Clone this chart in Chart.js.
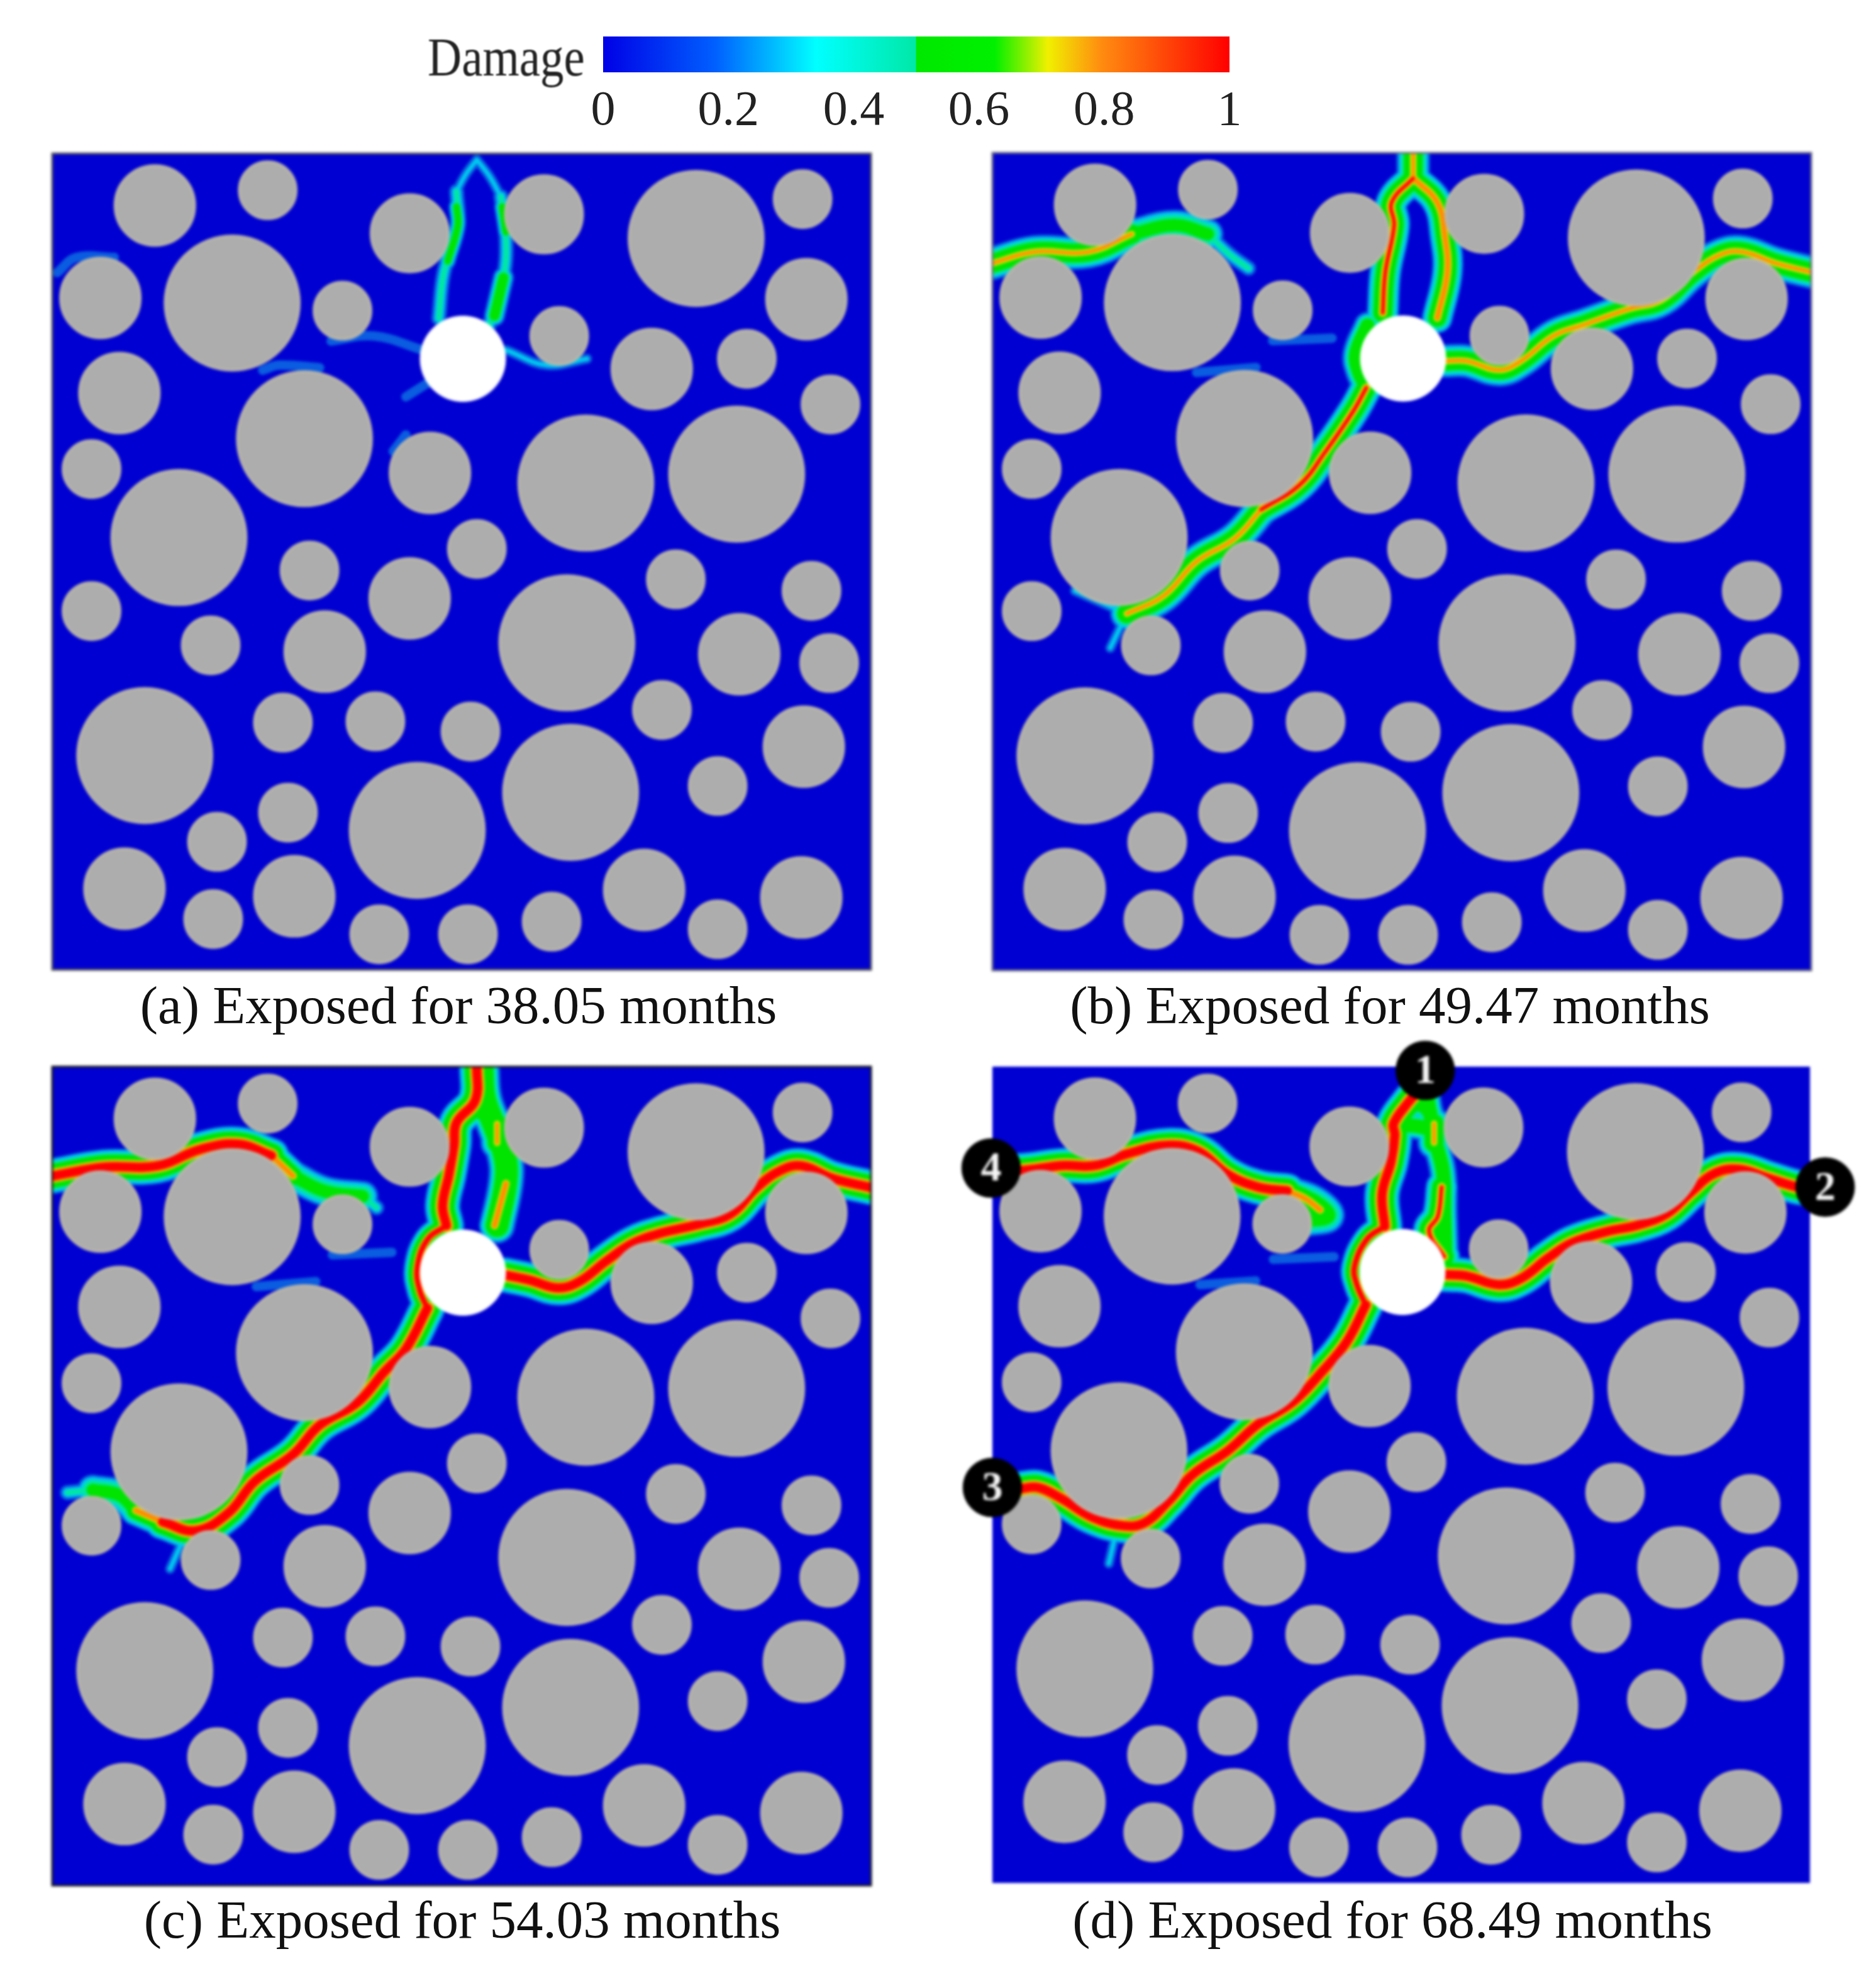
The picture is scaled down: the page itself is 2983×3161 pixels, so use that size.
<!DOCTYPE html>
<html>
<head>
<meta charset="utf-8">
<title>Damage</title>
<script src="https://cdn.jsdelivr.net/npm/chart.js@4"></script>
<style>
  html, body { margin: 0; padding: 0; background: #fff; }
  body { position: relative; width: 2983px; height: 3161px; overflow: hidden; }
  canvas { position: absolute; }
  canvas.field { filter: blur(2px); }
  .caption {
    position: absolute; white-space: nowrap; color: #111;
    font-family: "Liberation Serif", serif; font-size: 85px; line-height: 90px;
    transform: translateX(-50%); filter: blur(0.6px);
  }
  #damageLabel {
    position: absolute; left: 680px; top: 46px; color: #222;
    font-family: "Liberation Serif", serif; font-size: 75px; line-height: 90px; filter: blur(0.8px);
    transform: scaleY(1.15);
  }
</style>
</head>
<body>
<canvas id="colorbar" width="1130" height="210" style="left:900px;top:30px"></canvas>
<div id="damageLabel">Damage</div>
<canvas id="panelA" class="field"></canvas>
<canvas id="panelB" class="field"></canvas>
<canvas id="panelC" class="field"></canvas>
<canvas id="panelD" class="field"></canvas>
<script>
  // aggregates, units are specimen units with y going down
  var aggX = [81, 170, 282, 388, 508, 592, 38, 142, 229, 400, 595, 473, 548, 53, 199, 614, 31, 298, 421, 540, 100, 335, 203, 282, 492, 599, 31, 125, 215, 406, 542, 613, 73, 182, 255, 330, 481, 593, 409, 525, 288, 186, 130, 57, 191, 127, 258, 328, 394, 467, 525, 591];
  var aggY = [41, 29, 63, 48, 67, 36, 114, 118, 124, 144, 115, 170, 162, 189, 225, 198, 249, 252, 260, 253, 303, 312, 329, 351, 336, 345, 361, 388, 393, 386, 395, 402, 475, 449, 448, 456, 439, 468, 504, 499, 534, 520, 543, 580, 586, 604, 616, 616, 606, 581, 612, 587];
  var aggR = [32.5, 23.5, 31.5, 31.5, 54, 23.5, 32.5, 54, 23.5, 23.5, 32.5, 32.5, 23.5, 32.5, 54, 23.5, 23.5, 32.5, 54, 54, 54, 23.5, 23.5, 32.5, 23.5, 23.5, 23.5, 23.5, 32.5, 54, 32.5, 23.5, 54, 23.5, 23.5, 23.5, 23.5, 32.5, 54, 23.5, 54, 23.5, 23.5, 32.5, 32.5, 23.5, 23.5, 23.5, 23.5, 32.5, 23.5, 32.5];
  var holeX = [324];
  var holeY = [162];
  var holeR = [34];

  // crack paths, [x, y]
  var aLegTopL = [[335, 5], [326, 17], [319, 30]];
  var aLegTopR = [[335, 5], [345, 18], [354, 34]];
  var aLegL = [[319, 30], [320, 57], [309, 94], [305, 130]];
  var aLegR = [[354, 34], [358, 66], [356, 98], [345, 135]];
  var aGreenL = [[319, 42], [320, 57], [312, 85]];
  var aGreenR = [[356, 98], [349, 128]];
  var aGreenR2 = [[355, 42], [358, 62]];
  var aWestArm = [[220, 148], [254, 144], [292, 155]];
  var aEastArm = [[358, 155], [390, 167], [422, 162]];
  var aSouthArm = [[279, 192], [298, 180]];
  var aEdge = [[4, 94], [19, 82], [49, 82]];
  var aMid = [[166, 171], [179, 167], [211, 169]];
  var aNick = [[269, 235], [279, 222]];

  var bWest = [[0, 87], [33, 78], [76, 78], [110, 64]];
  var bWest2 = [[110, 64], [144, 57], [170, 64]];
  var bWestTail = [[170, 64], [187, 80], [202, 91]];
  var bTop = [[332, 0], [332, 20]];
  var bCrown = [[316, 36], [332, 24], [349, 36]];
  var bLegL = [[332, 20], [315, 39], [317, 57], [310, 94], [308, 126]];
  var bLegR = [[332, 20], [351, 39], [357, 66], [359, 94], [351, 130]];
  var bEast = [[357, 164], [374, 164], [400, 171], [417, 164], [443, 144], [468, 135], [502, 123], [528, 116], [553, 94], [575, 80], [592, 78], [618, 87], [646, 94]];
  var bSouth = [[295, 185], [285, 203], [263, 235], [242, 262], [212, 281]];
  var bSouth2 = [[212, 281], [191, 304], [161, 322], [135, 349], [106, 363]];
  var bSouthTail = [[106, 363], [93, 390]];
  var bSouthTail2 = [[106, 363], [65, 345]];
  var bArc = [[296, 136], [287, 158], [289, 172], [296, 186]];
  var bFaint = [[221, 148], [268, 146]];
  var bFaint2 = [[161, 173], [208, 169]];

  var cWest = [[0, 86], [41, 79], [83, 78], [117, 65], [147, 61], [173, 70]];
  var cWest2 = [[173, 70], [190, 86]];
  var cWest3 = [[190, 86], [215, 98], [245, 102]];
  var cWest4 = [[245, 102], [256, 111]];
  var cLegL = [[335, 0], [334, 26], [319, 44], [317, 62], [313, 85], [308, 109], [311, 125]];
  var cLegR = [[339, 0], [341, 25], [349, 47], [357, 70], [358, 90], [351, 125]];
  var cCrown = [[328, 30], [338, 36], [350, 42]];
  var cLegROrange = [[358, 92], [349, 125]];
  var cBlobOrange = [[351, 45], [351, 60]];
  var cArc = [[311, 125], [296, 136], [288, 158], [290, 176], [296, 190]];
  var cSouth = [[296, 190], [279, 222], [262, 240], [241, 264], [211, 282], [190, 305], [160, 326], [139, 351], [113, 365], [87, 358]];
  var cSouth2 = [[87, 358], [66, 349]];
  var cSouth3 = [[66, 349], [53, 337], [32, 333]];
  var cSouth4 = [[32, 333], [12, 335]];
  var cNick = [[106, 366], [93, 395]];
  var cEast = [[358, 164], [377, 168], [399, 174], [416, 169], [437, 153], [458, 139], [480, 131], [510, 124], [535, 116], [556, 95], [574, 82], [591, 78], [616, 88], [646, 95]];

  var dWest = [[0, 81], [22, 82], [55, 78], [81, 78], [106, 69], [139, 62], [163, 67], [186, 85], [210, 95], [233, 98]];
  var dWest2 = [[233, 98], [247, 104], [259, 113]];
  var dWestHalo = [[233, 98], [255, 106], [266, 118], [248, 122]];
  var dEast = [[357, 164], [374, 165], [400, 172], [418, 167], [439, 151], [458, 139], [486, 130], [510, 125], [533, 116], [552, 99], [571, 84], [590, 81], [613, 88], [636, 95], [646, 96]];
  var dSouth = [[295, 188], [280, 217], [261, 240], [238, 264], [210, 282], [186, 303], [158, 322], [139, 343], [120, 360], [102, 362], [78, 355], [55, 341], [36, 332], [22, 333]];
  var dLegL = [[342, 2], [340, 14], [328, 29], [317, 45], [318, 54], [315, 75], [308, 100], [310, 126]];
  var dLegR = [[342, 12], [345, 32], [349, 55], [356, 83], [357, 117], [358, 150]];
  var dCrown = [[327, 32], [338, 30], [346, 36]];
  var dCrown2 = [[324, 46], [336, 47], [348, 50]];
  var dLegROrange = [[355, 95], [352, 118], [345, 130], [357, 150]];
  var dBlobOrange = [[349, 45], [349, 60]];
  var dArc = [[310, 126], [296, 136], [286, 158], [288, 172], [295, 188]];
  var dFaint = [[222, 152], [270, 150]];
  var dFaint2 = [[164, 172], [208, 169]];
  var dNick = [[98, 366], [92, 392]];

  // peak damage reached along each path
  var cracksA = [[aWestArm, 0.12], [aEastArm, 0.2], [aSouthArm, 0.12], [aEdge, 0.12], [aMid, 0.12], [aNick, 0.1], [aLegTopL, 0.2], [aLegTopR, 0.2], [aLegL, 0.3], [aLegR, 0.3], [aGreenL, 0.42], [aGreenR, 0.47], [aGreenR2, 0.42]];
  var cracksB = [[bFaint, 0.12], [bFaint2, 0.12], [bSouthTail, 0.15], [bSouthTail2, 0.15], [bWestTail, 0.25], [bCrown, 0.55], [bArc, 0.55], [bWest, 0.75], [bWest2, 0.6], [bTop, 0.75], [bLegL, 0.85], [bLegR, 0.8], [bEast, 0.75], [bSouth, 0.82], [bSouth2, 0.7]];
  var cracksC = [[bFaint, 0.12], [bFaint2, 0.12], [cNick, 0.15], [cWest4, 0.25], [cWest3, 0.6], [cWest2, 0.8], [cArc, 0.9], [cCrown, 0.55], [cLegR, 0.65], [cLegROrange, 0.78], [cBlobOrange, 0.7], [cSouth4, 0.25], [cSouth3, 0.58], [cSouth2, 0.8], [cWest, 1], [cLegL, 1], [cSouth, 1], [cEast, 1]];
  var cracksD = [[dFaint, 0.12], [dFaint2, 0.12], [dNick, 0.15], [dWestHalo, 0.6], [dWest2, 0.8], [dArc, 0.9], [dCrown, 0.55], [dCrown2, 0.55], [dLegR, 0.55], [dLegROrange, 0.85], [dBlobOrange, 0.7], [dWest, 1], [dLegL, 1], [dSouth, 1], [dEast, 1]];

  // numbered crack ends on panel (d)
  var markerX = [342, 658, 0, -1];
  var markerY = [3, 95, 332, 80];
  var markerLabels = ["1", "2", "3", "4"];

  // colour bar
  var colorbarTicks = [0, 0.2, 0.4, 0.6, 0.8, 1];
  var colorbarStops = [0, 0.18, 0.34, 0.499, 0.5, 0.625, 0.71, 0.795, 1];
  var colorbarColors = ["#0000e6", "#0060ff", "#00ffff", "#00e8a8", "#00e800", "#00f000", "#f0f000", "#ff8c10", "#ff0000"];

  var captions = ["(a) Exposed for 38.05 months", "(b) Exposed for 49.47 months", "(c) Exposed for 54.03 months", "(d) Exposed for 68.49 months"];

  var MARGIN = 80;
  var bandColors = ["#0a5ce0", "#00c8f0", "#00e8a0", "#00e400", "#e6e600", "#ff8c00", "#ff0000"];

  function bandWidths(peak) {
    if (peak >= 0.95) return [58, 52, 44, 38, 22, 19, 14];
    if (peak >= 0.88) return [44, 38, 32, 26, 13, 11, 8];
    if (peak >= 0.82) return [52, 46, 38, 30, 13, 9, 5];
    if (peak >= 0.76) return [50, 44, 36, 28, 12, 8, 0];
    if (peak >= 0.7) return [54, 46, 38, 30, 10, 5, 0];
    if (peak >= 0.65) return [58, 50, 44, 36, 0, 0, 0];
    if (peak >= 0.58) return [50, 42, 32, 20, 0, 0, 0];
    if (peak >= 0.5) return [44, 36, 30, 22, 0, 0, 0];
    if (peak >= 0.45) return [34, 27, 21, 16, 0, 0, 0];
    if (peak >= 0.4) return [26, 20, 14, 11, 0, 0, 0];
    if (peak >= 0.25) return [24, 15, 8, 0, 0, 0, 0];
    if (peak >= 0.15) return [16, 7, 0, 0, 0, 0, 0];
    return [15, 0, 0, 0, 0, 0, 0];
  }

  function toPoints(path) {
    return path.map(function (p) {
      return { x: p[0], y: p[1] };
    });
  }

  function crackDatasets(cracks) {
    var sets = [];
    bandColors.forEach(function (color, band) {
      cracks.forEach(function (crack) {
        var width = bandWidths(crack[1])[band];
        if (!width) return;
        sets.push({
          type: "scatter",
          data: toPoints(crack[0]),
          showLine: true,
          tension: 0.4,
          borderColor: color,
          borderWidth: width,
          borderCapStyle: "round",
          borderJoinStyle: "round",
          pointRadius: 0,
          clip: 0,
          order: 20 - band,
        });
      });
    });
    return sets;
  }

  // the bubble border sits half outside r, so take it off
  function circleData(xs, ys, rs, unitPx, borderWidth) {
    return xs.map(function (x, i) {
      return { x: x, y: ys[i], r: rs[i] * unitPx - borderWidth / 2 };
    });
  }

  var panelFrame = {
    id: "panelFrame",
    beforeDraw: function (chart, args, opts) {
      var a = chart.chartArea;
      chart.ctx.fillStyle = "#0000d2";
      chart.ctx.fillRect(a.left, a.top, a.right - a.left, a.bottom - a.top);
    },
    afterDatasetsDraw: function (chart, args, opts) {
      var ctx = chart.ctx;
      var a = chart.chartArea;
      if (opts.color) {
        ctx.strokeStyle = opts.color;
        ctx.lineWidth = 3;
        ctx.strokeRect(a.left, a.top, a.right - a.left, a.bottom - a.top);
      }
      if (opts.markers) {
        ctx.fillStyle = "#f4f4f4";
        ctx.font = "bold 66px 'Liberation Serif', serif";
        ctx.textAlign = "center";
        ctx.textBaseline = "middle";
        markerLabels.forEach(function (label, i) {
          ctx.fillText(label, chart.scales.x.getPixelForValue(markerX[i]), chart.scales.y.getPixelForValue(markerY[i]) + 3);
        });
      }
    },
  };

  function createPanel(id, left, top, width, height, cracks, frameColor, withMarkers) {
    var canvas = document.getElementById(id);
    canvas.width = width + MARGIN * 2;
    canvas.height = height + MARGIN * 2;
    canvas.style.left = left - MARGIN + "px";
    canvas.style.top = top - MARGIN + "px";
    var unitPx = width / 646;

    var datasets = crackDatasets(cracks);
    datasets.push({
      type: "bubble",
      data: circleData(aggX, aggY, aggR, unitPx, 4),
      backgroundColor: "#adadad",
      borderColor: "#bab6a8",
      borderWidth: 4,
      clip: false,
      order: 2,
    });
    datasets.push({
      type: "bubble",
      data: circleData(holeX, holeY, holeR, unitPx, 1),
      backgroundColor: "#ffffff",
      borderColor: "#ffffff",
      borderWidth: 1,
      clip: false,
      order: 1,
    });
    if (withMarkers) {
      datasets.push({
        type: "bubble",
        data: circleData(markerX, markerY, [23.5, 23.5, 23.5, 23.5], unitPx, 1),
        backgroundColor: "#000000",
        borderColor: "#000000",
        borderWidth: 1,
        clip: false,
        order: 0,
      });
    }

    return new Chart(canvas.getContext("2d"), {
      type: "bubble",
      data: { datasets: datasets },
      plugins: [panelFrame],
      options: {
        responsive: false,
        animation: false,
        devicePixelRatio: 1,
        layout: { padding: MARGIN, autoPadding: false },
        scales: {
          x: { type: "linear", min: 0, max: 646, display: false },
          y: { type: "linear", min: 0, max: 644, reverse: true, display: false },
        },
        plugins: {
          legend: { display: false },
          tooltip: { enabled: false },
          panelFrame: { color: frameColor, markers: withMarkers },
        },
      },
    });
  }

  function createColorbar() {
    new Chart(document.getElementById("colorbar").getContext("2d"), {
      type: "bar",
      data: {
        labels: ["Damage"],
        datasets: [
          {
            data: [1],
            barPercentage: 1,
            categoryPercentage: 1,
            backgroundColor: function (context) {
              var area = context.chart.chartArea;
              if (!area) return colorbarColors[0];
              var g = context.chart.ctx.createLinearGradient(area.left, 0, area.right, 0);
              colorbarStops.forEach(function (stop, i) {
                g.addColorStop(stop, colorbarColors[i]);
              });
              return g;
            },
          },
        ],
      },
      options: {
        indexAxis: "y",
        responsive: false,
        animation: false,
        devicePixelRatio: 1,
        layout: { padding: { left: 59, right: 75, top: 28, bottom: 0 } },
        scales: {
          x: {
            type: "linear",
            min: 0,
            max: 1,
            afterBuildTicks: function (axis) {
              axis.ticks = colorbarTicks.map(function (v) {
                return { value: v };
              });
            },
            afterFit: function (axis) {
              axis.height = 125;
            },
            grid: { display: false },
            border: { display: false },
            ticks: {
              color: "#222",
              maxRotation: 0,
              padding: 8,
              font: { family: "'Liberation Serif', serif", size: 78 },
              callback: function (v) {
                return String(v);
              },
            },
          },
          y: { display: false },
        },
        plugins: {
          legend: { display: false },
          tooltip: { enabled: false },
        },
      },
    });
  }

  function addCaption(text, centerX, top) {
    var div = document.createElement("div");
    div.className = "caption";
    div.textContent = text;
    div.style.left = centerX + "px";
    div.style.top = top + "px";
    document.body.appendChild(div);
  }

  createColorbar();
  createPanel("panelA", 83, 244, 1302, 1298, cracksA, "#555555", false);
  createPanel("panelB", 1578, 243, 1302, 1300, cracksB, "#6a6a80", false);
  createPanel("panelC", 83, 1696, 1302, 1302, cracksC, "#1a1a1a", false);
  createPanel("panelD", 1578, 1696, 1300, 1298, cracksD, null, true);
  addCaption(captions[0], 729, 1553);
  addCaption(captions[1], 2210, 1553);
  addCaption(captions[2], 735, 3007);
  addCaption(captions[3], 2214, 3007);
</script>
</body>
</html>
